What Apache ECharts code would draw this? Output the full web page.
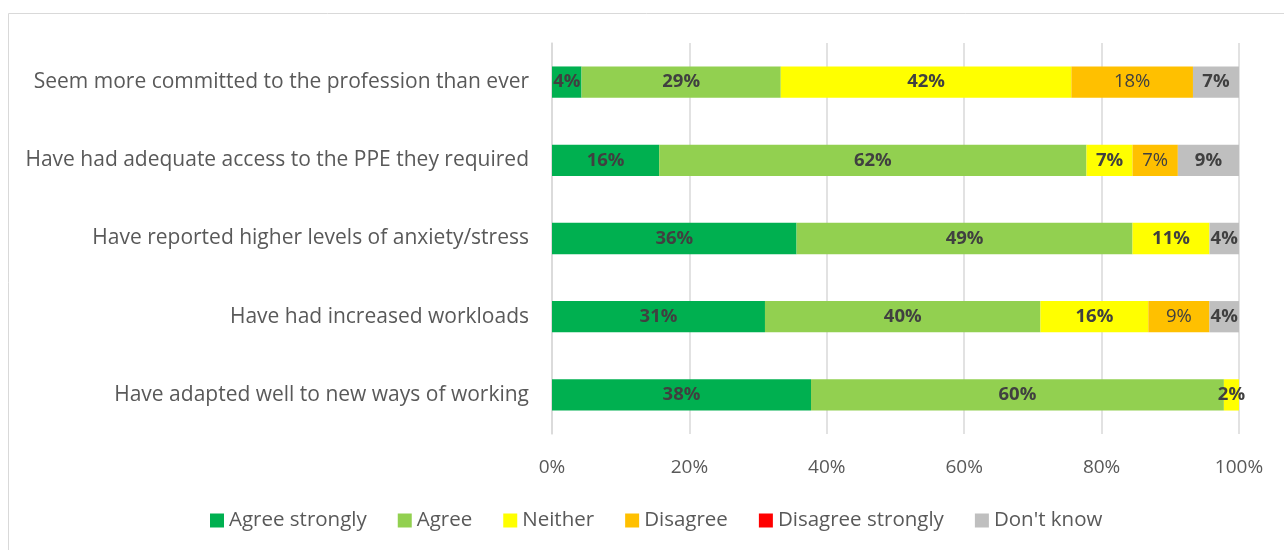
<!DOCTYPE html>
<html>
<head>
<meta charset="utf-8">
<script src="https://cdn.jsdelivr.net/npm/echarts@6/dist/echarts.min.js"></script>
<style>
  html, body { margin: 0; padding: 0; background: #ffffff; }
  #chart { width: 1284px; height: 550px; }
</style>
</head>
<body>
<div id="chart"></div>
<script>
// Statements, listed bottom-to-top as the category axis draws them
const statements = [
  'Have adapted well to new ways of working',
  'Have had increased workloads',
  'Have reported higher levels of anxiety/stress',
  'Have had adequate access to the PPE they required',
  'Seem more committed to the profession than ever'
];

// Share of responses (%) per answer, same order as statements
const agreeStrongly    = [37.7, 31.0, 35.6, 15.6, 4.3];
const agree            = [60.1, 40.1, 48.9, 62.2, 29.0];
const neither          = [2.2, 15.7, 11.2, 6.7, 42.3];
const disagree         = [0, 8.9, 0, 6.6, 17.7];
const disagreeStrongly = [0, 0, 0, 0, 0];
const dontKnow         = [0, 4.3, 4.3, 8.9, 6.7];

const xTicks = [0, 20, 40, 60, 80, 100];

const answers = [
  { name: 'Agree strongly', data: agreeStrongly, color: '#00b050', bold: true },
  { name: 'Agree', data: agree, color: '#92d050', bold: true },
  { name: 'Neither', data: neither, color: '#ffff00', bold: true },
  { name: 'Disagree', data: disagree, color: '#ffc000', bold: false },
  { name: 'Disagree strongly', data: disagreeStrongly, color: '#ff0000', bold: true },
  { name: "Don't know", data: dontKnow, color: '#bfbfbf', bold: true }
];

const FONT = '"Open Sans", Lato, sans-serif';

const chart = echarts.init(document.getElementById('chart'), null, { renderer: 'canvas' });

chart.setOption({
  animation: false,
  textStyle: { fontFamily: FONT },
  graphic: [{
    type: 'rect',
    shape: { x: 8.5, y: 13.5, width: 1400, height: 700 },
    style: { fill: 'none', stroke: '#d9d9d9', lineWidth: 1 },
    silent: true,
    z: -10
  }],
  grid: { left: 552, right: 45, top: 43, bottom: 116 },
  legend: {
    bottom: 14,
    left: 205,
    itemWidth: 14,
    itemHeight: 14,
    itemGap: 31,
    icon: 'rect',
    textStyle: { fontFamily: FONT, fontSize: 20.5, color: '#595959' },
    data: answers.map(a => a.name)
  },
  xAxis: {
    type: 'value',
    min: 0,
    max: 100,
    interval: 20,
    axisLine: { show: false },
    axisTick: { show: false },
    splitLine: { lineStyle: { color: '#d9d9d9', width: 1.5 } },
    axisLabel: {
      fontSize: 19,
      color: '#595959',
      margin: 24,
      formatter: v => (xTicks.includes(v) ? v + '%' : '')
    }
  },
  yAxis: {
    type: 'category',
    data: statements,
    axisLine: { show: true, lineStyle: { color: '#d9d9d9', width: 1.5 } },
    axisTick: { show: false },
    axisLabel: { fontSize: 21, color: '#595959', margin: 23, padding: [3, 0, 0, 0] }
  },
  series: answers.map(a => ({
    name: a.name,
    type: 'bar',
    stack: 'total',
    barCategoryGap: '60%',
    data: a.data,
    itemStyle: { color: a.color },
    label: {
      show: true,
      position: 'inside',
      fontFamily: FONT,
      fontSize: 18.5,
      fontWeight: a.bold ? 'bold' : 'normal',
      color: '#404040',
      padding: [3, 0, 0, 0],
      formatter: p => (p.value > 0 ? Math.round(p.value) + '%' : '')
    }
  }))
});
</script>
</body>
</html>
